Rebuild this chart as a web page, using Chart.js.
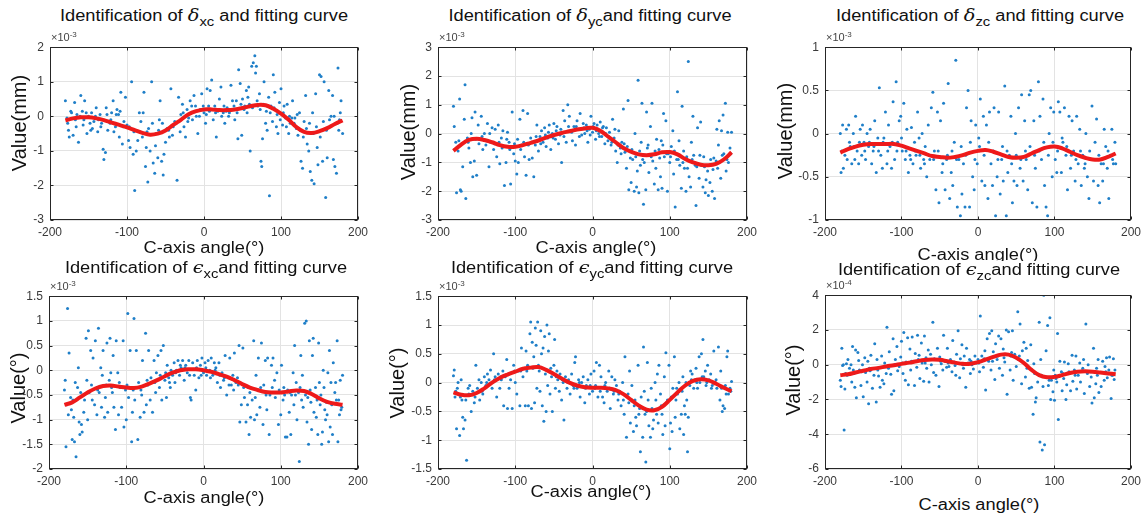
<!DOCTYPE html>
<html>
<head>
<meta charset="utf-8">
<script src="https://cdn.jsdelivr.net/npm/chart.js@4.4.1/dist/chart.umd.min.js"></script>
<style>
  html, body { margin: 0; padding: 0; background: #fff; overflow: hidden; }
  #fig { position: relative; width: 1148px; height: 520px; font-family: "Liberation Sans", Arial, sans-serif; color: #111; }
  #fig canvas { position: absolute; }
  .ttl, .xlab { position: absolute; white-space: nowrap; line-height: 1; transform: translateX(-50%) scaleX(1.14); }
  .ttl { font-size: 16px; background: #fff; padding-bottom: 2px; }
  .ttl i { font-family: "DejaVu Serif", serif; font-size: 17px; }
  .ttl sub { font-size: 13px; vertical-align: -5px; line-height: 0; }
  .xlab { font-size: 16px; }
  .ylab { position: absolute; white-space: nowrap; font-size: 20px; line-height: 1; transform: translate(-50%, -50%) rotate(-90deg); }
  .expo { position: absolute; font-size: 11px; color: #444; white-space: nowrap; line-height: 1; }
  .expo sup { font-size: 8px; vertical-align: 4px; line-height: 0; }
</style>
</head>
<body>
<div id="fig"></div>
<script>
(function () {
  'use strict';

  // ── Data (values in units of the ×10^n axis label) ──
  const angleTicks = [-200, -100, 0, 100, 200];
  const fitAngles  = [-180,-170,-160,-150,-140,-130,-120,-110,-100,-90,-80,-70,-60,-50,-40,-30,-20,-10,
                      0,10,20,30,40,50,60,70,80,90,100,110,120,130,140,150,160,170,180];

  const yTicksDxc = [-3, -2, -1, 0, 1, 2];
  const yTicksDyc = [-3, -2, -1, 0, 1, 2, 3];
  const yTicksDzc = [-1, -0.5, 0, 0.5, 1];
  const yTicksExc = [-2, -1.5, -1, -0.5, 0, 0.5, 1, 1.5];
  const yTicksEyc = [-1.5, -1, -0.5, 0, 0.5, 1, 1.5];
  const yTicksEzc = [-6, -4, -2, 0, 2, 4];

  const fitDxc = [-0.12,-0.06,-0.03,-0.03,-0.06,-0.11,-0.18,-0.25,-0.32,-0.4,-0.48,-0.53,-0.5,-0.41,-0.25,-0.1,0.06,0.15,
                  0.2,0.2,0.18,0.18,0.2,0.24,0.29,0.33,0.32,0.22,0.08,-0.1,-0.31,-0.45,-0.48,-0.43,-0.34,-0.22,-0.12];
  const fitDyc = [-0.6,-0.38,-0.22,-0.18,-0.22,-0.3,-0.4,-0.46,-0.46,-0.4,-0.32,-0.24,-0.14,-0.05,0.02,0.08,0.14,0.18,
                  0.2,0.1,-0.1,-0.3,-0.5,-0.63,-0.72,-0.75,-0.72,-0.65,-0.64,-0.72,-0.88,-1.0,-1.08,-1.1,-1.05,-0.9,-0.65];
  const fitDzc = [-0.22,-0.18,-0.15,-0.13,-0.12,-0.12,-0.12,-0.12,-0.14,-0.17,-0.2,-0.23,-0.26,-0.27,-0.28,-0.27,-0.25,-0.22,
                  -0.2,-0.19,-0.21,-0.24,-0.27,-0.28,-0.27,-0.23,-0.19,-0.16,-0.15,-0.17,-0.21,-0.25,-0.28,-0.3,-0.3,-0.27,-0.23];
  const fitExc = [-0.7,-0.65,-0.55,-0.45,-0.37,-0.32,-0.31,-0.33,-0.35,-0.36,-0.33,-0.27,-0.2,-0.12,-0.05,0.0,0.02,0.02,
                  0.0,-0.03,-0.08,-0.13,-0.2,-0.28,-0.35,-0.4,-0.44,-0.45,-0.45,-0.43,-0.41,-0.42,-0.48,-0.57,-0.64,-0.68,-0.7];
  const fitEyc = [-0.17,-0.21,-0.22,-0.18,-0.1,0.0,0.08,0.14,0.19,0.24,0.26,0.27,0.22,0.15,0.07,0.0,-0.05,-0.08,
                  -0.09,-0.09,-0.1,-0.13,-0.2,-0.3,-0.4,-0.47,-0.48,-0.42,-0.3,-0.17,-0.05,0.03,0.06,0.04,-0.02,-0.09,-0.15];
  const fitEzc = [-0.6,-0.55,-0.45,-0.35,-0.25,-0.18,-0.1,-0.03,0.05,0.12,0.2,0.27,0.3,0.28,0.2,0.12,0.05,0.05,
                  0.15,0.3,0.45,0.58,0.58,0.4,0.1,-0.3,-0.6,-0.72,-0.7,-0.6,-0.48,-0.4,-0.38,-0.4,-0.45,-0.5,-0.55];

  const ptsDxc = [[-180,0.45],[-178,-0.05],[-176,-0.4],[-175,-0.6],[-172,0.1],[-170,-0.55],[-168,0.4],[-166,-0.3],[-165,0.05],[-163,-0.75],
    [-160,0.6],[-158,0.15],[-156,-0.1],[-155,0.45],[-152,-0.5],[-150,0.0],[-148,-0.2],[-146,0.1],[-145,-0.35],[-143,-0.15],[-140,0.25],
    [-138,-0.45],[-135,0.05],[-133,-0.2],[-131,-0.95],[-130,-1.25],[-128,-1.05],[-127,0.25],[-125,-0.4],[-122,-0.2],[-120,0.1],[-118,0.45],
    [-115,-0.3],[-113,0.2],[-111,0.05],[-110,-0.6],[-108,0.7],[-106,-0.8],[-104,-0.15],[-102,0.55],[-100,-0.25],[-98,-0.7],[-96,-0.9],
    [-94,1.0],[-92,-1.1],[-91,-0.45],[-90,-2.15],[-88,-1.0],[-86,-0.7],[-84,0.1],[-82,-0.15],[-80,-0.6],[-78,0.7],[-76,-1.45],[-75,-0.9],
    [-73,-1.9],[-72,-0.35],[-70,-1.0],[-68,1.0],[-66,-1.35],[-64,-1.65],[-62,-0.5],[-60,-1.2],[-58,-0.1],[-57,0.45],[-55,-1.3],[-53,-1.7],
    [-52,-1.1],[-50,-0.75],[-48,-0.35],[-45,-0.6],[-43,0.8],[-40,-0.3],[-38,-0.15],[-35,-1.85],[-33,0.55],[-31,-0.45],[-30,0.05],[-28,0.35],
    [-26,-0.3],[-24,-0.6],[-22,0.2],[-20,-0.05],[-18,0.45],[-15,-0.1],[-13,0.6],[-10,0.0],[-8,-0.5],[-5,0.2],[-3,0.65],[0,0.1],[2,-0.2],
    [4,0.8],[6,0.3],[8,0.75],[10,1.05],[12,-0.1],[14,0.3],[16,-0.6],[18,0.15],[20,0.5],[22,0.85],[25,0.1],[27,-0.2],[30,0.25],[32,0.0],
    [35,0.9],[37,0.45],[40,-0.1],[42,0.45],[44,-0.65],[45,1.35],[47,0.95],[49,-0.55],[50,0.5],[52,0.2],[55,0.75],[57,0.55],[58,0.85],
    [60,-1.0],[62,1.45],[64,1.55],[66,1.75],[67,1.25],[68,1.45],[70,0.3],[72,0.65],[74,-1.3],[75,-1.45],[76,-0.65],[78,1.0],[80,-0.2],
    [82,-0.4],[84,0.55],[85,-2.3],[87,0.3],[89,-0.15],[90,1.2],[92,0.7],[94,-0.3],[96,-0.5],[98,0.4],[100,0.8],[102,-0.25],[104,0.3],
    [106,-0.05],[108,0.35],[110,-0.5],[112,-0.2],[115,0.45],[118,-0.05],[120,-0.35],[122,-0.55],[124,0.1],[126,-1.3],[128,-1.5],[130,-0.15],
    [132,0.6],[134,-0.8],[136,-1.0],[138,-1.6],[140,-1.85],[141,0.1],[143,-1.95],[145,0.65],[147,-0.9],[148,-1.4],[150,1.2],[152,1.15],
    [154,-1.3],[156,1.0],[158,-2.35],[160,-1.2],[162,0.75],[163,-0.1],[165,0.0],[167,0.6],[168,-1.25],[170,-1.45],[172,-1.65],[174,1.4],
    [175,-0.4],[177,0.1],[178,0.45],[180,-0.5],
    [-177,-0.2],[-173,0.15],[-167,-0.1],[-161,0.0],[-157,-0.25],[-153,0.1],[-147,-0.4],[-141,0.0],[-137,-0.1],[-134,-0.3],[-126,0.05],
    [-121,-0.1],[-117,-0.45],[-114,0.05],[-109,0.15],[-105,-0.3],[-97,-0.3],[-83,-0.45],[-79,0.1],[-74,-0.45],[-67,-0.2],[-63,-0.85],
    [-59,-0.4],[-54,-0.2],[-46,-0.4],[-41,-0.55],[-36,-0.2],[-27,0.1],[-21,-0.15],[-16,0.3],[-11,0.3],[-6,0.0],[-1,0.3],[3,0.05],[7,0.15],
    [11,0.2],[15,0.1],[19,0.2],[23,0.0],[26,0.3],[29,0.15],[33,0.1],[36,0.2],[39,0.3],[43,0.1],[48,0.35],[53,0.3],[56,0.1],[59,0.35],
    [63,0.25],[69,0.45],[73,0.2],[77,0.35],[81,0.15],[86,0.1],[91,0.25],[95,0.05],[99,-0.1],[103,0.1],[107,-0.3],[111,0.0],[114,-0.05],
    [117,-0.2],[121,0.05],[125,-0.4],[129,-0.6],[133,-0.35],[137,-0.2],[142,-0.5],[146,-0.3],[151,-0.6],[155,-0.15],[159,-0.4],[164,-0.3],
    [169,0.0],[173,-0.2],[176,-0.1]];

  const ptsDyc = [[-180,0.95],[-179,0.25],[-177,-0.3],[-176,-2.05],[-174,-0.6],[-172,1.2],[-171,-1.95],[-170,-2.0],[-168,-1.15],[-166,0.5],
    [-165,1.7],[-164,-2.25],[-162,-0.15],[-160,-0.5],[-158,-1.0],[-156,0.55],[-155,-1.5],[-153,-0.95],[-152,0.75],[-150,-1.45],[-148,0.3],
    [-146,-0.2],[-144,0.6],[-142,-0.55],[-140,0.0],[-138,-0.4],[-136,0.35],[-134,-1.15],[-132,-0.3],[-130,0.2],[-128,-0.55],[-126,0.15],
    [-124,-0.8],[-122,0.3],[-120,-1.05],[-118,-0.15],[-116,0.1],[-114,-1.8],[-112,-1.0],[-110,0.05],[-108,-0.3],[-106,-1.75],[-104,0.75],
    [-102,-0.7],[-100,-0.95],[-98,-1.4],[-96,-1.0],[-94,0.5],[-92,-0.4],[-90,0.8],[-88,-0.8],[-86,-1.45],[-84,0.7],[-82,-0.9],[-80,-0.15],
    [-78,-0.85],[-76,-1.5],[-74,-0.4],[-72,0.3],[-70,-0.6],[-68,-0.1],[-66,0.1],[-64,-0.3],[-62,0.2],[-60,-0.45],[-58,-0.15],[-56,0.3],
    [-54,-0.55],[-52,0.0],[-50,0.35],[-48,-0.2],[-46,0.25],[-44,-0.35],[-42,-0.05],[-40,-1.0],[-38,0.8],[-36,0.45],[-34,-0.3],[-32,1.0],
    [-30,0.6],[-28,0.1],[-26,-0.25],[-24,0.25],[-22,-0.4],[-20,0.45],[-18,0.15],[-16,0.7],[-14,-0.05],[-12,0.35],[-10,0.0],[-8,0.3],
    [-6,-0.3],[-4,0.15],[-2,0.6],[0,0.05],[2,0.35],[4,-0.2],[6,0.3],[8,0.0],[10,0.4],[12,-0.1],[14,0.25],[16,-0.35],[18,0.2],[20,-0.25],
    [22,0.05],[24,-0.4],[26,0.5],[28,-0.15],[30,-0.6],[32,-1.0],[34,0.1],[36,-0.5],[38,-0.3],[40,0.85],[42,-0.65],[44,-1.2],[46,1.15],
    [47,-1.95],[49,-0.85],[50,-1.7],[52,-0.9],[54,-2.0],[55,0.0],[57,-1.85],[58,-1.3],[59,1.85],[60,-2.05],[62,-1.1],[63,-0.3],[64,1.05],
    [66,-2.45],[67,-1.0],[69,-1.95],[70,0.75],[72,-0.4],[73,-1.35],[75,0.25],[77,1.05],[78,-0.95],[80,-1.75],[82,-1.2],[83,-0.2],[85,-1.95],
    [86,-0.55],[88,-1.5],[89,-0.25],[90,-1.9],[92,0.7],[93,-0.8],[95,0.45],[97,-2.0],[98,-0.7],[100,-1.0],[102,-0.45],[104,0.1],[105,-1.4],
    [107,-2.55],[109,-0.9],[110,1.45],[112,-0.25],[113,-1.1],[115,-1.9],[116,0.95],[118,-0.6],[119,-1.2],[121,-2.0],[122,-0.8],[124,2.5],
    [125,-1.5],[127,-1.85],[128,-0.3],[130,0.6],[131,-0.75],[133,-1.1],[134,-2.5],[136,0.2],[138,-1.55],[140,0.4],[141,-1.1],[143,-1.85],
    [144,-0.8],[146,-2.05],[147,-1.6],[149,-1.3],[150,-2.15],[152,-1.7],[153,-0.9],[155,-2.0],[156,-1.25],[158,-2.25],[160,-0.95],[161,0.15],
    [163,-0.4],[164,0.45],[166,-1.55],[167,0.1],[169,0.65],[170,-0.7],[172,1.05],[173,-1.3],[175,0.05],[176,-1.0],[178,-0.5],[180,0.05],
    [-178,-0.55],[-173,-0.25],[-169,-0.35],[-161,-0.3],[-157,0.0],[-151,-0.2],[-147,-0.35],[-143,-0.1],[-137,-0.25],[-133,0.0],[-127,-0.35],
    [-121,-0.3],[-117,-0.5],[-111,-0.2],[-107,-0.55],[-101,-0.35],[-97,-0.2],[-93,-0.55],[-89,-0.3],[-83,-0.4],[-79,-0.3],[-73,-0.1],
    [-67,-0.35],[-61,-0.05],[-57,0.05],[-51,-0.15],[-47,0.1],[-41,0.15],[-37,-0.1],[-31,0.25],[-27,0.05],[-21,0.25],[-17,-0.1],[-11,0.2],
    [-7,0.1],[-3,-0.05],[1,0.25],[5,0.1],[9,-0.1],[13,0.2],[17,0.0],[21,-0.1],[25,-0.3],[29,0.15],[33,-0.4],[37,-0.7],[41,-0.35],[45,-0.45],
    [51,-0.55],[56,-0.8],[61,-0.6],[65,-0.9],[71,-0.5],[76,-0.8],[81,-0.6],[87,-0.85],[91,-0.4],[96,-0.7],[101,-0.8],[106,-0.6],[111,-0.9],
    [117,-1.0],[123,-1.2],[129,-0.9],[135,-1.15],[139,-0.75],[145,-1.15],[151,-1.1],[157,-0.85],[162,-1.2],[168,-0.75],[174,-0.9],[179,-0.7]];

  const ptsDzc = [[-180,0.0],[-179,-0.45],[-177,0.1],[-176,-0.4],[-174,-0.25],[-172,0.05],[-171,-0.3],[-169,0.1],[-167,-0.15],[-165,-0.35],
    [-163,0.0],[-161,-0.3],[-160,0.2],[-158,-0.2],[-156,-0.35],[-154,0.05],[-152,-0.25],[-151,0.1],[-149,-0.1],[-147,-0.3],[-145,0.0],
    [-143,-0.15],[-141,0.05],[-139,-0.35],[-137,-0.2],[-135,0.15],[-133,-0.45],[-131,-0.05],[-129,0.53],[-127,-0.25],[-125,-0.4],[-123,-0.05],
    [-121,0.25],[-119,-0.35],[-117,0.1],[-115,-0.15],[-113,-0.4],[-111,0.37],[-109,-0.3],[-107,0.6],[-105,-0.1],[-103,0.15],[-101,0.2],
    [-99,-0.2],[-97,0.35],[-95,-0.3],[-93,0.05],[-91,-0.45],[-89,-0.25],[-87,0.07],[-85,-0.35],[-83,-0.1],[-81,-0.25],[-79,0.25],[-77,-0.05],
    [-75,-0.4],[-73,0.0],[-71,-0.3],[-69,-0.15],[-67,-0.5],[-65,0.1],[-63,-0.3],[-61,0.3],[-59,0.48],[-57,-0.2],[-55,-0.65],[-53,0.25],
    [-51,-0.8],[-49,0.15],[-47,-0.45],[-45,0.35],[-43,-0.65],[-41,-0.3],[-39,0.58],[-37,-0.75],[-35,-0.45],[-33,-0.6],[-31,-0.1],[-29,0.85],
    [-27,-0.85],[-25,-0.3],[-23,-0.95],[-21,-0.7],[-19,-0.35],[-17,-0.85],[-15,0.3],[-13,0.5],[-11,-0.85],[-9,0.15],[-7,-0.5],[-5,-0.65],
    [-3,0.1],[-1,-0.35],[1,-0.05],[3,0.4],[5,-0.55],[7,0.2],[9,-0.6],[11,0.1],[13,-0.75],[15,0.25],[17,-0.35],[19,-0.6],[21,0.3],[23,-0.95],
    [25,-0.5],[27,0.25],[29,-0.7],[31,-0.3],[33,-0.55],[35,0.55],[37,-0.95],[39,-0.45],[41,-0.25],[43,0.2],[45,-0.8],[47,-0.55],[49,0.0],
    [51,-0.6],[53,0.3],[55,-0.4],[57,0.45],[59,-0.55],[61,0.15],[63,-0.3],[65,-0.65],[67,0.45],[69,0.5],[71,-0.8],[73,0.15],[75,-0.4],
    [77,-0.85],[79,0.6],[81,0.2],[83,-0.3],[85,0.4],[87,-0.6],[89,-0.85],[91,-0.95],[93,0.0],[95,0.3],[97,-0.5],[99,0.25],[101,-0.3],
    [103,-0.45],[105,0.37],[107,0.25],[109,-0.45],[111,-0.1],[113,0.3],[115,-0.25],[117,-0.65],[119,0.2],[121,-0.4],[123,0.15],[125,-0.2],
    [127,-0.55],[129,0.2],[131,-0.35],[133,0.05],[135,-0.6],[137,-0.25],[139,-0.4],[141,0.0],[143,-0.5],[145,-0.75],[147,-0.3],[149,0.32],
    [151,-0.55],[153,-0.1],[155,0.17],[157,-0.6],[159,-0.8],[161,-0.35],[163,-0.55],[165,0.05],[167,-0.15],[169,-0.4],[171,-0.75],[173,-0.25],
    [175,0.05],[177,-0.35],[179,-0.1],[180,-0.35],
    [-178,-0.2],[-168,-0.1],[-162,-0.15],[-155,-0.1],[-148,-0.2],[-142,-0.1],[-136,-0.15],[-130,-0.2],[-124,-0.1],[-118,-0.2],[-112,-0.1],
    [-106,-0.2],[-100,-0.05],[-94,-0.2],[-88,-0.3],[-82,-0.2],[-76,-0.25],[-70,-0.35],[-64,-0.25],[-58,-0.3],[-52,-0.2],[-46,-0.35],
    [-40,-0.25],[-34,-0.2],[-28,-0.3],[-22,-0.15],[-16,-0.25],[-10,-0.1],[-4,-0.3],[2,-0.15],[8,-0.25],[14,-0.1],[20,-0.2],[26,-0.3],
    [32,-0.15],[38,-0.2],[44,-0.35],[50,-0.25],[56,-0.3],[62,-0.2],[68,-0.15],[74,-0.25],[80,-0.2],[86,-0.1],[92,-0.25],[98,-0.1],
    [104,-0.2],[110,-0.05],[116,-0.15],[122,-0.25],[128,-0.3],[134,-0.2],[140,-0.35],[146,-0.2],[152,-0.3],[158,-0.25],[164,-0.35],
    [170,-0.2],[176,-0.3]];

  const ptsExc = [[-180,-0.4],[-179,-0.2],[-178,-1.55],[-176,1.25],[-175,-0.9],[-174,0.35],[-172,-0.55],[-171,-0.8],[-170,-1.4],[-168,-0.95],
    [-167,-1.45],[-166,-0.25],[-165,-1.75],[-163,-0.35],[-162,0.05],[-161,-1.05],[-160,-1.3],[-159,-0.45],[-158,-1.1],[-157,-1.25],[-155,-0.85],
    [-154,-0.6],[-152,0.65],[-151,-0.2],[-150,-1.0],[-149,0.8],[-148,-0.45],[-146,0.4],[-144,-0.6],[-143,0.25],[-141,-0.7],[-140,0.6],
    [-138,-0.9],[-136,0.85],[-135,-0.45],[-133,0.05],[-132,-0.75],[-131,-0.1],[-130,0.4],[-128,-0.95],[-127,-0.55],[-125,0.55],[-124,-0.85],
    [-122,-0.2],[-121,0.65],[-120,-0.05],[-118,-0.45],[-117,0.3],[-116,-0.75],[-114,-1.2],[-113,0.6],[-111,-0.05],[-110,-0.9],[-108,-0.35],
    [-106,-0.75],[-104,0.6],[-103,-1.15],[-101,-0.4],[-100,-1.0],[-98,1.15],[-97,-0.55],[-95,0.4],[-93,-1.45],[-92,-0.85],[-90,1.05],
    [-89,-0.6],[-87,0.4],[-85,-1.4],[-84,-0.25],[-82,-0.95],[-80,-0.5],[-79,0.2],[-77,-0.85],[-75,0.75],[-74,-0.7],[-72,-0.3],[-71,0.4],
    [-69,-0.6],[-68,-0.15],[-66,-0.85],[-64,0.2],[-62,-0.45],[-61,-0.05],[-59,0.3],[-57,-0.35],[-55,0.4],[-54,-0.6],[-52,0.5],[-50,-0.2],
    [-48,-0.55],[-47,0.1],[-45,-0.15],[-43,-0.35],[-42,0.0],[-40,-0.1],[-38,0.15],[-37,-0.25],[-35,0.0],[-33,0.2],[-31,-0.1],[-29,0.05],
    [-27,0.2],[-25,-0.2],[-23,0.1],[-21,-0.05],[-19,0.2],[-17,-0.55],[-16,-0.6],[-14,0.15],[-12,-0.1],[-10,-0.4],[-8,0.2],[-6,-0.15],
    [-4,0.1],[-2,0.25],[0,-0.05],[2,0.15],[4,-0.1],[6,0.2],[8,0.0],[10,0.25],[12,-0.1],[14,0.15],[16,0.05],[18,-0.25],[20,0.15],[22,-0.35],
    [24,-0.05],[26,-0.2],[28,0.3],[30,-0.5],[32,-0.15],[34,0.25],[36,-0.3],[38,-0.1],[40,0.35],[42,-0.25],[44,-0.15],[46,0.5],[47,-1.05],
    [49,-0.7],[51,0.45],[53,-0.55],[55,-1.05],[57,-0.7],[58,-0.35],[59,-1.3],[61,-0.95],[63,-0.6],[65,0.6],[66,-1.0],[68,-0.1],[69,-0.9],
    [71,0.25],[73,-0.75],[75,0.55],[77,-1.1],[78,-0.3],[80,0.2],[82,-0.8],[83,0.25],[85,-1.3],[86,-0.5],[88,0.1],[90,0.25],[92,-0.2],
    [93,-0.55],[95,-0.05],[97,-1.1],[98,-0.4],[100,-0.9],[101,0.1],[103,-0.6],[105,-0.5],[106,-1.35],[108,-1.35],[109,-0.4],[111,-0.85],
    [113,-1.3],[114,-0.5],[116,-0.05],[117,-0.7],[118,0.5],[120,-0.25],[121,-1.0],[123,-0.45],[124,-1.85],[126,0.3],[127,-0.6],[128,-0.1],
    [129,-0.75],[131,0.95],[133,1.0],[134,-1.05],[135,-0.55],[136,-1.5],[137,0.6],[139,-0.65],[140,-1.2],[141,0.3],[142,0.65],[143,-0.85],
    [145,-0.35],[146,-0.95],[148,-1.3],[149,0.55],[150,-0.25],[151,-0.7],[153,-1.5],[154,-1.25],[155,0.0],[156,-0.35],[157,-0.8],[158,-1.0],
    [160,-0.9],[161,-0.05],[162,-1.45],[163,0.4],[164,-1.15],[165,-0.25],[167,-1.3],[168,0.15],[170,-0.45],[171,-0.25],[173,0.6],[174,-1.45],
    [175,-0.6],[176,-0.9],[177,-0.2],[179,-0.75],[180,-0.1],
    [-177,-0.7],[-169,-0.6],[-156,-0.5],[-145,-0.3],[-137,-0.4],[-126,-0.3],[-119,-0.35],[-109,-0.25],[-99,-0.3],[-91,-0.4],[-81,-0.4],
    [-73,-0.2],[-63,-0.25],[-56,-0.1],[-49,-0.05],[-44,-0.25],[-36,-0.05],[-30,0.1],[-24,0.05],[-18,-0.1],[-9,0.05],[-3,-0.1],[3,0.05],
    [9,-0.15],[15,0.0],[21,-0.1],[27,-0.15],[33,-0.3],[39,-0.4],[45,-0.3],[52,-0.35],[60,-0.45],[67,-0.55],[74,-0.35],[81,-0.5],[89,-0.35],
    [96,-0.45],[104,-0.35],[112,-0.45],[119,-0.5],[125,-0.35],[132,-0.5],[138,-0.4],[147,-0.6],[152,-0.5],[159,-0.65],[166,-0.7],[172,-0.6],
    [178,-0.8]];

  const ptsEyc = [[-180,0.12],[-179,0.22],[-178,-0.25],[-176,-0.8],[-175,-0.1],[-174,0.0],[-172,-0.92],[-171,-0.25],[-170,0.05],[-168,-0.6],
    [-167,-0.8],[-165,-0.65],[-164,-0.3],[-163,-1.35],[-161,-0.1],[-159,-0.05],[-157,-0.5],[-155,-0.15],[-153,-0.35],[-151,0.3],[-149,-0.1],
    [-147,0.05],[-146,-0.3],[-144,0.0],[-142,-0.2],[-140,0.1],[-138,-0.05],[-136,0.15],[-134,0.05],[-132,0.22],[-130,-0.1],[-128,0.5],
    [-126,0.1],[-124,-0.25],[-122,0.15],[-120,-0.1],[-118,0.05],[-116,0.2],[-115,-0.4],[-113,0.1],[-111,0.4],[-110,-0.45],[-108,-0.1],
    [-106,0.05],[-104,-0.45],[-102,0.3],[-100,0.0],[-98,-0.2],[-96,0.2],[-94,-0.4],[-92,0.6],[-90,0.1],[-88,0.25],[-87,-0.4],[-86,0.55],
    [-84,0.3],[-83,-0.4],[-81,0.85],[-80,1.05],[-79,-0.45],[-78,0.7],[-76,0.45],[-75,-0.35],[-74,0.95],[-73,0.65],[-72,-0.1],[-71,1.05],
    [-70,0.3],[-68,-0.15],[-67,0.9],[-66,0.5],[-65,-0.4],[-64,0.6],[-63,-0.67],[-62,0.8],[-61,0.15],[-60,-0.5],[-59,1.0],[-58,-0.05],
    [-57,0.55],[-56,0.85],[-55,-0.2],[-53,0.1],[-52,-0.5],[-50,0.3],[-49,0.75],[-48,-0.1],[-46,0.2],[-45,0.05],[-43,-0.15],[-42,0.15],
    [-40,-0.3],[-38,0.0],[-37,-0.65],[-35,0.1],[-33,-0.1],[-31,0.05],[-29,-0.2],[-27,0.15],[-25,-0.05],[-23,0.35],[-22,0.45],[-20,-0.1],
    [-18,0.05],[-16,-0.25],[-14,0.0],[-12,0.1],[-10,-0.35],[-8,-0.05],[-6,0.05],[-4,-0.2],[-2,0.15],[0,-0.15],[2,0.2],[4,-0.05],[5,0.35],
    [7,-0.25],[9,0.3],[11,0.1],[13,-0.25],[15,-0.35],[17,0.0],[19,-0.15],[21,0.2],[23,-0.45],[25,0.1],[27,-0.2],[29,0.05],[31,-0.05],
    [33,-0.3],[35,-0.15],[37,-0.4],[39,0.0],[41,-0.55],[42,0.45],[44,-0.95],[46,-0.2],[48,0.2],[49,-0.7],[51,-0.05],[53,-0.85],[54,-0.4],
    [56,-0.6],[57,-0.75],[59,0.3],[60,-0.55],[62,-1.2],[63,-0.25],[65,-0.95],[66,0.62],[67,-0.15],[68,-0.55],[69,-1.38],[71,0.35],[72,-0.3],
    [73,-0.75],[75,-0.95],[76,-0.1],[78,-0.8],[79,-0.65],[81,0.0],[82,-0.3],[84,0.15],[85,-0.7],[86,0.3],[88,-0.2],[90,-0.55],[91,-0.9],
    [93,0.1],[94,-0.75],[95,0.52],[97,-0.3],[99,0.3],[100,-1.15],[101,-0.7],[103,-0.85],[104,-0.1],[106,0.45],[107,-0.6],[108,-0.3],
    [110,-0.2],[112,0.0],[113,-0.8],[115,-0.55],[117,0.1],[118,-0.9],[119,-0.4],[120,-0.55],[122,-0.3],[123,-1.2],[124,-0.6],[126,-0.05],
    [127,0.2],[129,0.15],[131,-0.1],[133,0.05],[134,0.25],[136,-0.1],[138,0.45],[139,0.0],[141,0.5],[143,0.75],[144,0.1],[146,0.2],
    [147,-0.05],[149,0.3],[151,0.05],[153,0.15],[155,-0.05],[157,0.55],[159,0.0],[161,-0.1],[163,0.62],[165,-0.3],[166,0.2],[168,-0.5],
    [169,-0.4],[171,-0.45],[172,-0.05],[174,0.45],[175,0.55],[176,-0.2],[178,-0.1],[180,0.02],
    [-177,-0.15],[-169,-0.3],[-160,-0.2],[-152,-0.25],[-143,-0.15],[-137,0.0],[-127,0.05],[-119,0.1],[-109,0.15],[-101,0.2],[-93,0.2],
    [-85,0.2],[-77,0.25],[-69,0.2],[-54,0.25],[-47,0.1],[-39,0.05],[-32,0.0],[-24,-0.1],[-17,0.0],[-9,-0.1],[-3,-0.05],[3,-0.1],[10,-0.15],
    [16,-0.05],[22,-0.1],[28,-0.15],[34,-0.2],[40,-0.3],[47,-0.35],[55,-0.3],[61,-0.45],[70,-0.5],[77,-0.45],[83,-0.55],[89,-0.4],
    [96,-0.35],[102,-0.25],[109,-0.1],[116,-0.15],[121,0.0],[128,0.05],[135,0.0],[142,0.1],[148,0.0],[154,-0.1],[160,0.05],[167,-0.1],
    [173,-0.2],[179,-0.15]];

  const ptsEzc = [[-180,-0.9],[-179,-1.25],[-178,0.95],[-177,-0.05],[-176,0.0],[-175,-3.75],[-174,-1.4],[-172,0.05],[-171,-0.6],[-170,0.3],
    [-168,-0.2],[-166,0.0],[-165,-1.0],[-164,1.05],[-162,-0.5],[-161,-1.3],[-160,0.85],[-159,-1.9],[-157,0.7],[-156,0.25],[-155,-0.3],
    [-153,-1.2],[-151,0.0],[-150,-1.85],[-148,0.4],[-147,-0.45],[-145,-1.0],[-144,0.2],[-143,-2.25],[-141,-0.35],[-140,0.55],[-138,-1.35],
    [-136,-0.6],[-135,1.2],[-133,-2.15],[-132,0.3],[-130,-0.65],[-128,-1.3],[-126,0.5],[-125,-0.9],[-123,-1.1],[-122,0.1],[-120,-0.5],
    [-119,2.15],[-117,-0.2],[-116,0.75],[-114,-0.55],[-113,-1.7],[-111,1.5],[-110,-1.5],[-108,0.3],[-106,1.05],[-105,-0.35],[-103,-0.1],
    [-101,0.45],[-100,1.35],[-98,-0.5],[-97,1.85],[-95,-0.9],[-94,0.15],[-92,1.55],[-91,-1.15],[-89,0.9],[-88,-0.3],[-86,1.6],[-85,0.2],
    [-83,-1.2],[-82,0.65],[-80,-0.15],[-79,1.7],[-77,0.55],[-76,-0.8],[-74,1.25],[-73,0.1],[-71,-0.95],[-70,1.65],[-68,0.4],[-67,-0.2],
    [-65,0.85],[-64,-1.0],[-62,0.6],[-61,0.0],[-59,2.45],[-58,-0.45],[-56,0.3],[-55,-0.6],[-53,0.95],[-51,-1.25],[-50,0.45],[-48,0.05],
    [-46,-0.3],[-45,1.7],[-43,0.2],[-41,-0.15],[-40,0.95],[-38,-0.1],[-36,0.3],[-34,-0.4],[-33,1.4],[-31,0.15],[-29,-0.6],[-28,0.6],
    [-26,1.95],[-24,-0.75],[-23,0.35],[-21,1.15],[-19,-0.2],[-18,0.5],[-16,-1.3],[-15,0.95],[-13,0.1],[-11,0.3],[-10,-0.5],[-8,0.0],
    [-6,-0.25],[-4,0.5],[-2,0.1],[0,0.3],[2,-0.4],[3,2.8],[5,0.5],[7,-0.15],[9,0.8],[10,-1.45],[12,1.5],[14,0.2],[15,1.8],[17,-0.3],
    [18,1.95],[20,0.75],[22,-0.85],[23,1.2],[25,0.3],[27,1.65],[28,-0.2],[30,1.5],[32,-0.6],[33,0.9],[35,0.15],[37,2.0],[38,-1.7],[40,1.9],
    [42,-0.3],[43,0.5],[45,1.95],[46,-0.9],[48,0.6],[50,-0.1],[52,3.05],[53,0.3],[55,2.35],[57,-1.1],[58,0.8],[60,1.3],[62,-0.7],[63,0.95],
    [65,0.25],[67,-1.35],[69,1.15],[70,-1.3],[72,-2.85],[73,0.05],[75,-2.15],[76,-1.9],[78,-1.0],[80,2.45],[81,-4.45],[82,0.3],[84,-4.9],
    [85,-1.25],[86,4.0],[87,-4.6],[89,0.8],[90,-0.7],[91,2.25],[92,-1.2],[94,2.7],[95,-2.0],[96,-0.9],[98,-1.55],[99,-0.3],[100,-2.05],
    [101,-0.6],[103,-1.0],[104,1.8],[105,-3.15],[107,0.2],[109,-0.4],[110,-1.5],[112,-0.8],[113,0.15],[115,-2.0],[116,-1.15],[118,0.05],
    [120,-0.5],[121,-1.5],[123,0.55],[124,-0.95],[126,-0.3],[128,0.5],[129,-1.4],[131,-0.6],[133,0.1],[134,-1.0],[136,-0.35],[138,0.3],
    [139,-1.65],[141,2.35],[143,-0.5],[144,0.0],[146,-1.25],[148,-0.7],[149,-2.2],[151,0.95],[152,-1.9],[154,-1.1],[155,-0.2],[157,0.3],
    [158,-1.6],[160,-0.45],[161,-1.25],[163,0.2],[165,-0.9],[166,-0.1],[168,0.4],[169,-0.75],[171,-0.3],[172,0.45],[174,-1.95],[175,-0.6],
    [177,0.35],[178,-0.85],[179,-0.3],
    [-173,-0.5],[-163,-0.3],[-152,-0.4],[-142,-0.2],[-131,-0.3],[-121,-0.1],[-109,0.0],[-99,0.1],[-87,0.2],[-78,0.3],[-69,0.1],[-57,0.35],
    [-49,0.2],[-39,0.1],[-30,-0.05],[-20,0.0],[-9,0.2],[1,0.1],[8,0.35],[19,0.2],[26,0.5],[34,0.4],[44,0.7],[54,0.5],[64,-0.2],[74,-0.5],
    [83,-0.6],[93,-0.9],[102,-0.8],[111,-0.5],[119,-0.4],[127,-0.6],[137,-0.2],[147,-0.4],[156,-0.6],[167,-0.4],[176,-0.6]];

  // ── Layout helpers ──────────────────────────────────────────────────────
  const FONT = '"Liberation Sans", Arial, sans-serif';
  const fig  = document.getElementById('fig');
  const AXIS_W = 45, AXIS_H = 24, PAD_TOP = 8;

  function addHtml(cls, html, left, top) {
    const el = document.createElement('div');
    el.className = cls;
    el.innerHTML = html;
    el.style.left = left + 'px';
    el.style.top  = top + 'px';
    fig.appendChild(el);
    return el;
  }

  // MATLAB-like axes box with inward ticks on all four sides
  const boxPlugin = {
    id: 'matlabBox',
    afterDatasetsDraw(chart) {
      const { ctx, chartArea: a, scales } = chart;
      const L = Math.round(a.left) + 0.5, R = Math.round(a.right) - 0.5;
      const T = Math.round(a.top) + 0.5,  B = Math.round(a.bottom) - 0.5;
      ctx.save();
      ctx.strokeStyle = '#262626';
      ctx.lineWidth = 1;
      ctx.strokeRect(L, T, R - L, B - T);
      ctx.beginPath();
      scales.x.ticks.forEach(t => {
        const px = Math.round(scales.x.getPixelForValue(t.value)) + 0.5;
        ctx.moveTo(px, B); ctx.lineTo(px, B - 3);
        ctx.moveTo(px, T); ctx.lineTo(px, T + 3);
      });
      scales.y.ticks.forEach(t => {
        const py = Math.round(scales.y.getPixelForValue(t.value)) + 0.5;
        ctx.moveTo(L, py); ctx.lineTo(L + 3, py);
        ctx.moveTo(R, py); ctx.lineTo(R - 3, py);
      });
      ctx.stroke();
      ctx.restore();
    },
  };

  function fmt(v) { return String(Math.round(v * 100) / 100); }

  function makePanel(p) {
    const canvas = document.createElement('canvas');
    const padR = p.padR || 22;
    const w = p.box.w + AXIS_W + padR;
    const h = p.box.h + PAD_TOP + AXIS_H;
    canvas.width = w; canvas.height = h;
    canvas.style.width = w + 'px'; canvas.style.height = h + 'px';
    canvas.style.left = (p.box.x - AXIS_W) + 'px';
    canvas.style.top  = (p.box.y - PAD_TOP) + 'px';
    fig.appendChild(canvas);

    const tickFont = { family: FONT, size: 12 };
    new Chart(canvas, {
      type: 'scatter',
      data: {
        datasets: [
          {
            data: fitAngles.map((x, i) => ({ x, y: p.fit[i] })),
            showLine: true,
            borderColor: '#ee1a1a',
            borderWidth: 4,
            pointRadius: 0,
            tension: 0.4,
            fill: false,
          },
          {
            data: p.pts.map(([x, y]) => ({ x, y })),
            pointRadius: 1.5,
            pointBackgroundColor: '#1f7fc8',
            pointBorderWidth: 0,
          },
        ],
      },
      options: {
        responsive: false,
        animation: false,
        layout: { padding: { top: PAD_TOP, right: padR, left: 0, bottom: 0 } },
        plugins: { legend: { display: false }, tooltip: { enabled: false } },
        scales: {
          x: {
            type: 'linear',
            min: angleTicks[0], max: angleTicks[angleTicks.length - 1],
            afterBuildTicks: s => { s.ticks = angleTicks.map(v => ({ value: v })); },
            afterFit: s => { s.height = AXIS_H; },
            grid: { color: '#e3e3e3', drawTicks: false },
            border: { display: false },
            ticks: { padding: 5, font: tickFont, color: '#3a3a3a', maxRotation: 0, callback: fmt },
          },
          y: {
            type: 'linear',
            min: p.yTicks[0], max: p.yTicks[p.yTicks.length - 1],
            afterBuildTicks: s => { s.ticks = p.yTicks.map(v => ({ value: v })); },
            afterFit: s => { s.width = AXIS_W; },
            grid: { color: '#e3e3e3', drawTicks: false },
            border: { display: false },
            ticks: { padding: 6, font: tickFont, color: '#3a3a3a', callback: fmt },
          },
        },
      },
      plugins: [boxPlugin],
    });

    addHtml('expo', '&times;10<sup>' + p.expo + '</sup>', p.box.x + 1, p.box.y - 10);
    addHtml('ylab', p.ylab, p.ylabAt[0], p.ylabAt[1]);
    addHtml('xlab', 'C-axis angle(&deg;)', p.xlabAt[0], p.xlabAt[1]);
    addHtml('ttl', p.title, p.titleAt[0], p.titleAt[1]);
  }

  const panels = [
    { box: { x: 50,  y: 42, w: 308, h: 178 }, pts: ptsDxc, fit: fitDxc, yTicks: yTicksDxc, expo: '-3', ylab: 'Value(mm)',
      title: 'Identification of <i>&delta;</i><sub>xc</sub> and fitting curve', titleAt: [204, 7], xlabAt: [204, 240], ylabAt: [19, 123] },
    { box: { x: 438, y: 42, w: 309, h: 178 }, pts: ptsDyc, fit: fitDyc, yTicks: yTicksDyc, expo: '-3', ylab: 'Value(mm)',
      title: 'Identification of <i>&delta;</i><sub>yc</sub>and fitting curve', titleAt: [590, 7], xlabAt: [596, 240], ylabAt: [408, 132] },
    { box: { x: 825, y: 42, w: 307, h: 178 }, pts: ptsDzc, fit: fitDzc, yTicks: yTicksDzc, expo: '-3', ylab: 'Value(mm)', padR: 14,
      title: 'Identification of <i>&delta;</i><sub>zc</sub> and fitting curve', titleAt: [980, 7], xlabAt: [978, 247], ylabAt: [785, 131] },
    { box: { x: 49,  y: 291, w: 309, h: 178 }, pts: ptsExc, fit: fitExc, yTicks: yTicksExc, expo: '-3', ylab: 'Value(&deg;)',
      title: 'Identification of <i>&#x3F5;</i><sub>xc</sub>and fitting curve', titleAt: [206, 259], xlabAt: [204, 490], ylabAt: [18, 388] },
    { box: { x: 438, y: 291, w: 309, h: 178 }, pts: ptsEyc, fit: fitEyc, yTicks: yTicksEyc, expo: '-3', ylab: 'Value(&deg;)',
      title: 'Identification of <i>&#x3F5;</i><sub>yc</sub>and fitting curve', titleAt: [592, 259], xlabAt: [591, 484], ylabAt: [397, 383] },
    { box: { x: 825, y: 290, w: 307, h: 179 }, pts: ptsEzc, fit: fitEzc, yTicks: yTicksEzc, expo: '-4', ylab: 'Value(&deg;)', padR: 14,
      title: 'Identification of <i>&#x3F5;</i><sub>zc</sub>and fitting curve', titleAt: [979, 261], xlabAt: [979, 497], ylabAt: [793, 380] },
  ];

  panels.forEach(makePanel);
})();
</script>
</body>
</html>
